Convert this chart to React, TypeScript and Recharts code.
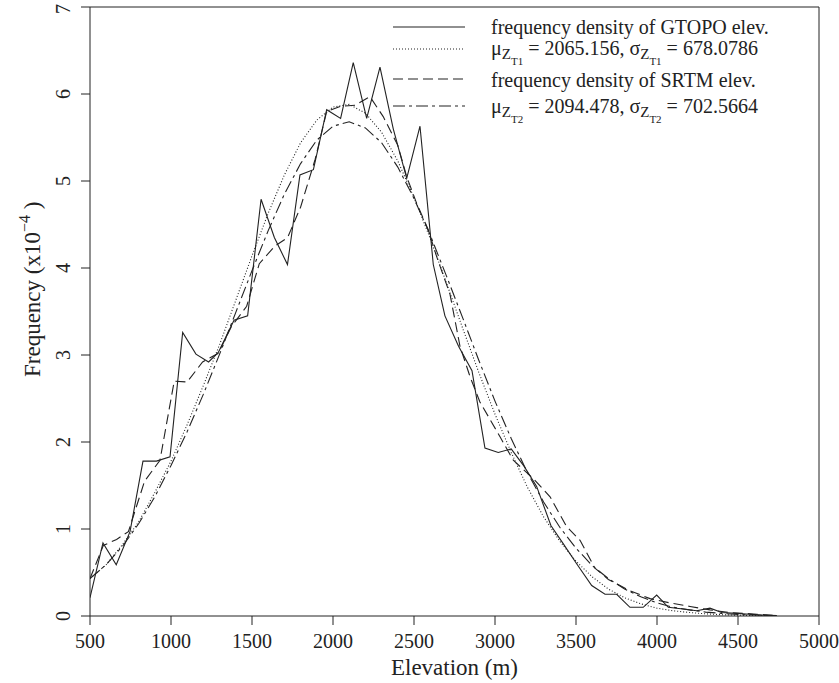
import React from 'react';
import { LineChart, Line, XAxis, YAxis, ReferenceLine } from 'recharts';

// frequency density of GTOPO elevations (solid)
const gtopoElev = [500, 580, 662, 747, 827, 910, 994, 1072, 1154, 1232, 1292, 1389, 1473, 1556, 1638, 1719, 1796, 1879, 1961, 2047, 2125, 2208, 2290, 2372, 2455, 2537, 2619, 2691, 2775, 2858, 2938, 3020, 3100, 3180, 3257, 3345, 3425, 3504, 3597, 3679, 3751, 3833, 3915, 3998, 4070, 4160, 4245, 4327, 4400, 4490, 4570, 4650, 4740];
const gtopoFreq = [0.21, 0.84, 0.59, 0.97, 1.78, 1.78, 1.83, 3.26, 3.01, 2.92, 3.03, 3.4, 3.45, 4.79, 4.35, 4.04, 5.07, 5.13, 5.82, 5.72, 6.36, 5.72, 6.31, 5.6, 5.03, 5.63, 4.04, 3.45, 3.1, 2.82, 1.93, 1.88, 1.92, 1.72, 1.49, 1.04, 0.82, 0.6, 0.35, 0.25, 0.25, 0.1, 0.1, 0.24, 0.1, 0.08, 0.06, 0.09, 0.04, 0.03, 0.02, 0.01, 0.005];

// frequency density of SRTM elevations (dashed)
const srtmElev = [500, 582, 664, 737, 837, 932, 1020, 1100, 1195, 1292, 1374, 1467, 1545, 1640, 1720, 1800, 1890, 1961, 2050, 2136, 2228, 2310, 2400, 2455, 2517, 2588, 2640, 2722, 2784, 2846, 2907, 3031, 3113, 3236, 3340, 3441, 3525, 3617, 3700, 3833, 3957, 4080, 4204, 4327, 4451, 4616, 4740];
const srtmFreq = [0.43, 0.81, 0.88, 0.97, 1.55, 1.79, 2.7, 2.69, 2.92, 3.02, 3.33, 3.56, 4.05, 4.25, 4.35, 4.7, 5.25, 5.8, 5.86, 5.87, 5.97, 5.74, 5.41, 5.05, 4.74, 4.44, 4.13, 3.7, 3.1, 2.75, 2.46, 2.06, 1.79, 1.58, 1.37, 1.03, 0.87, 0.55, 0.42, 0.29, 0.2, 0.15, 0.11, 0.07, 0.04, 0.02, 0.005];

// fitted curves, read every 100 m
const fitElev = [500, 600, 700, 800, 900, 1000, 1100, 1200, 1300, 1400, 1500, 1600, 1700, 1800, 1900, 2000, 2100, 2200, 2300, 2400, 2500, 2600, 2700, 2800, 2900, 3000, 3100, 3200, 3300, 3400, 3500, 3600, 3700, 3800, 3900, 4000, 4100, 4200, 4300, 4400, 4500, 4600, 4700];
const gtopoFit = [0.43, 0.59, 0.82, 1.08, 1.42, 1.78, 2.2, 2.65, 3.12, 3.63, 4.14, 4.63, 5.07, 5.44, 5.7, 5.85, 5.88, 5.78, 5.56, 5.23, 4.81, 4.34, 3.83, 3.31, 2.8, 2.32, 1.88, 1.48, 1.14, 0.86, 0.63, 0.45, 0.31, 0.21, 0.14, 0.09, 0.06, 0.04, 0.025, 0.015, 0.009, 0.005, 0.003];
const srtmFit = [0.43, 0.59, 0.8, 1.06, 1.37, 1.73, 2.12, 2.55, 3.01, 3.49, 3.97, 4.43, 4.85, 5.2, 5.47, 5.63, 5.68, 5.61, 5.44, 5.16, 4.8, 4.38, 3.91, 3.43, 2.94, 2.47, 2.04, 1.65, 1.31, 1.02, 0.78, 0.58, 0.43, 0.31, 0.22, 0.15, 0.1, 0.07, 0.045, 0.03, 0.018, 0.011, 0.006];

const xTicks = [500, 1000, 1500, 2000, 2500, 3000, 3500, 4000, 4500, 5000];
const yTicks = [0, 1, 2, 3, 4, 5, 6, 7];

const FONT = '"Liberation Serif", "Times New Roman", serif';
const INK = '#222';

const toRows = (xs: number[], ys: number[]) => xs.map((e, i) => ({ e, f: ys[i] }));

const XTick = (props: any) => (
  <text x={props.x} y={648} textAnchor="middle" fontSize={20} fontFamily={FONT} fill={INK}>
    {props.payload.value}
  </text>
);

// R draws y tick labels parallel to the axis
const YTick = (props: any) => (
  <g transform={`translate(70, ${props.y}) rotate(-90)`}>
    <text x={0} y={0} textAnchor="middle" fontSize={20} fontFamily={FONT} fill={INK}>
      {props.payload.value}
    </text>
  </g>
);

const App = () => {
  const lineProps = { type: 'linear' as const, dataKey: 'f', stroke: INK, strokeWidth: 1.1, dot: false, isAnimationActive: false };
  return (
    <div style={{ position: 'absolute', left: 0, top: 0, width: 839, height: 683, background: '#fff' }}>
      <LineChart width={839} height={683} margin={{ top: 7, right: 20, bottom: 0, left: 0 }}>
        <XAxis
          dataKey="e"
          type="number"
          domain={[500, 5000]}
          ticks={xTicks}
          allowDataOverflow
          height={67}
          tickSize={9}
          stroke={INK}
          tick={(p: any) => <XTick {...p} />}
        />
        <YAxis
          type="number"
          domain={[0, 7]}
          ticks={yTicks}
          allowDataOverflow
          width={90}
          tickSize={9}
          stroke={INK}
          tick={(p: any) => <YTick {...p} />}
        />
        <ReferenceLine y={7} stroke={INK} />
        <ReferenceLine x={5000} stroke={INK} />
        <Line {...lineProps} data={toRows(gtopoElev, gtopoFreq)} />
        <Line {...lineProps} data={toRows(fitElev, gtopoFit)} strokeDasharray="1 2" />
        <Line {...lineProps} data={toRows(srtmElev, srtmFreq)} strokeDasharray="10 5" />
        <Line {...lineProps} data={toRows(fitElev, srtmFit)} strokeDasharray="12 4 3 4" />
      </LineChart>

      <svg width={839} height={683} style={{ position: 'absolute', left: 0, top: 0, pointerEvents: 'none' }} fontFamily={FONT} fill={INK}>
        {/* legend */}
        <line x1={393} x2={465} y1={27} y2={27} stroke={INK} strokeWidth={1.1} />
        <line x1={393} x2={465} y1={49} y2={49} stroke={INK} strokeWidth={1.1} strokeDasharray="1 2" />
        <line x1={393} x2={465} y1={79} y2={79} stroke={INK} strokeWidth={1.1} strokeDasharray="10 5" />
        <line x1={393} x2={465} y1={106} y2={106} stroke={INK} strokeWidth={1.1} strokeDasharray="12 4 3 4" />
        <text x={491} y={34} fontSize={20}>frequency density of GTOPO elev.</text>
        <text x={491} y={55} fontSize={20}>
          μ<tspan fontSize={15} dy={4}>Z</tspan>
          <tspan fontSize={11} dy={6}>T1</tspan>
          <tspan fontSize={20} dy={-10}> = 2065.156, σ</tspan>
          <tspan fontSize={15} dy={4}>Z</tspan>
          <tspan fontSize={11} dy={6}>T1</tspan>
          <tspan fontSize={20} dy={-10}> = 678.0786</tspan>
        </text>
        <text x={491} y={87} fontSize={20}>frequency density of SRTM elev.</text>
        <text x={491} y={113} fontSize={20}>
          μ<tspan fontSize={15} dy={4}>Z</tspan>
          <tspan fontSize={11} dy={6}>T2</tspan>
          <tspan fontSize={20} dy={-10}> = 2094.478, σ</tspan>
          <tspan fontSize={15} dy={4}>Z</tspan>
          <tspan fontSize={11} dy={6}>T2</tspan>
          <tspan fontSize={20} dy={-10}> = 702.5664</tspan>
        </text>

        {/* axis titles */}
        <text x={454.5} y={675} textAnchor="middle" fontSize={23}>Elevation (m)</text>
        <text x={40} y={377} transform="rotate(-90 40 377)" fontSize={23}>
          Frequency (x10<tspan fontSize={16} dy={-10}>−4</tspan>
          <tspan fontSize={23} dy={10}> )</tspan>
        </text>
      </svg>
    </div>
  );
};

export default App;
